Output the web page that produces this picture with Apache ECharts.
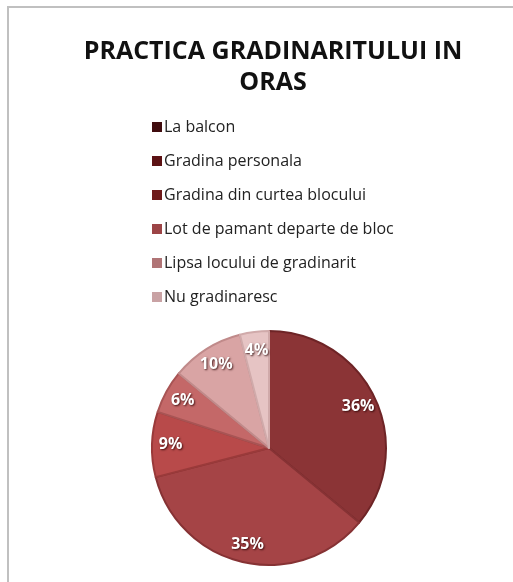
<!DOCTYPE html>
<html>
<head>
<meta charset="utf-8">
<script src="https://cdn.jsdelivr.net/npm/echarts@6/dist/echarts.min.js"></script>
<style>
  html, body { margin: 0; padding: 0; background: #fff; }
  #chart { width: 513px; height: 582px; }
</style>
</head>
<body>
<div id="chart"></div>
<script>
// categories and shares (percent)
const categories = [
  "La balcon",
  "Gradina personala",
  "Gradina din curtea blocului",
  "Lot de pamant departe de bloc",
  "Lipsa locului de gradinarit",
  "Nu gradinaresc"
];
const shares = [36, 35, 9, 6, 10, 4];

// colours of the slices and of the legend swatches
const sliceColors = ["#8b3436", "#a54446", "#b84a4a", "#c46868", "#d9a4a4", "#e6c4c4"];
const sliceBorders = ["#6e2426", "#863234", "#9a3a3a", "#a85454", "#c08a8a", "#d0aaaa"];
const legendColors = ["#400c0e", "#5c1214", "#6e1a1a", "#9c4446", "#b07476", "#c9a2a4"];

const chart = echarts.init(document.getElementById("chart"));

const pieData = categories.map((name, i) => ({
  name,
  value: shares[i],
  itemStyle: { color: sliceColors[i], borderColor: sliceBorders[i], borderWidth: 2 }
}));

const option = {
  animation: false,
  title: {
    text: "PRACTICA GRADINARITULUI IN\nORAS",
    left: 268,
    textAlign: "center",
    top: 31,
    textStyle: {
      fontFamily: "Open Sans",
      fontWeight: "bold",
      fontSize: 25,
      lineHeight: 31,
      color: "#111"
    }
  },
  legend: {
    orient: "vertical",
    left: 147,
    top: 111,
    itemWidth: 10,
    itemHeight: 10,
    itemGap: 12,
    icon: "rect",
    selectedMode: false,
    itemStyle: { borderWidth: 0 },
    textStyle: { fontFamily: "Open Sans", fontSize: 16, lineHeight: 22, color: "#222", padding: [0, 0, 0, -3] },
    data: categories.map((name, i) => ({ name, itemStyle: { color: legendColors[i], borderWidth: 0 } }))
  },
  graphic: [{
    type: "polyline",
    shape: { points: [[8, 600], [8, 7], [520, 7]] },
    style: { stroke: "#c0c0c0", lineWidth: 2, fill: null },
    silent: true
  }],
  series: [
    {
      type: "pie",
      center: [269, 448],
      radius: [0, 117],
      startAngle: 90,
      clockwise: true,
      label: { show: false },
      labelLine: { show: false },
      data: pieData
    },
    {
      // transparent ring that only carries the labels, placed near the rim
      type: "pie",
      silent: true,
      center: [269, 448],
      radius: [74, 117],
      startAngle: 90,
      clockwise: true,
      itemStyle: { color: "rgba(0,0,0,0)" },
      label: {
        show: true,
        position: "inside",
        formatter: "{c}%",
        fontFamily: "Open Sans",
        fontWeight: "bold",
        fontSize: 16,
        color: "#fff",
        textShadowColor: "rgba(40,0,0,0.8)",
        textShadowBlur: 2,
        textShadowOffsetX: 1,
        textShadowOffsetY: 1
      },
      labelLine: { show: false },
      data: categories.map((name, i) => ({ name, value: shares[i] }))
    }
  ]
};

chart.setOption(option);
</script>
</body>
</html>
